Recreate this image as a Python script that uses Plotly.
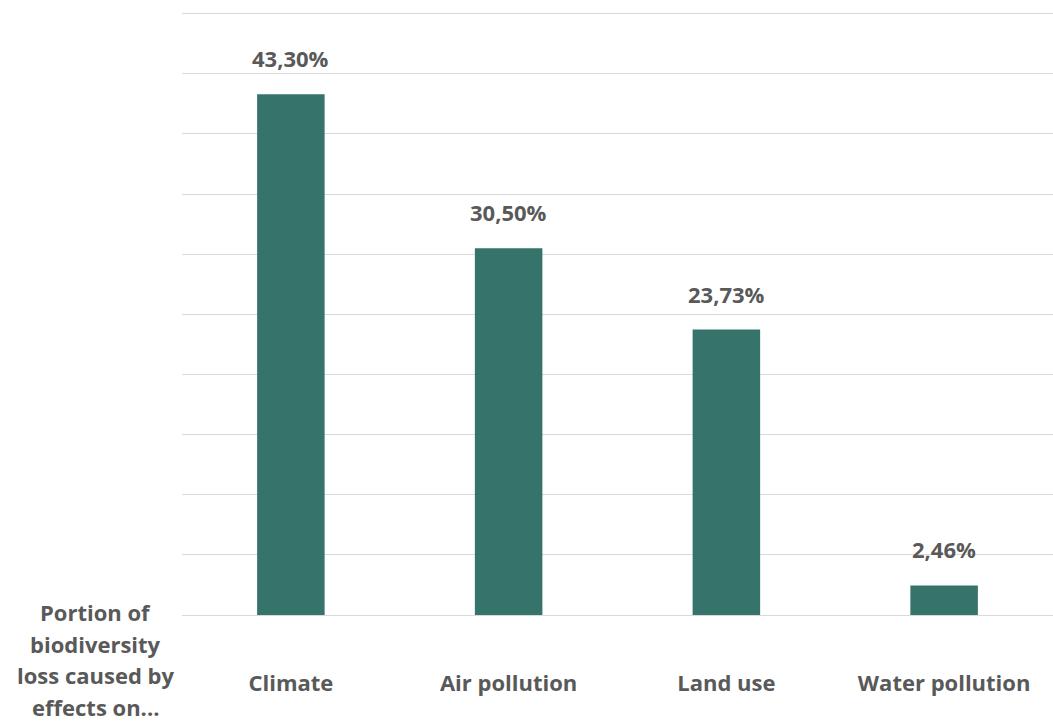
import plotly.graph_objects as go

categories = ["Climate", "Air pollution", "Land use", "Water pollution"]
values = [43.30, 30.50, 23.73, 2.46]
value_labels = ["43,30%", "30,50%", "23,73%", "2,46%"]
axis_title_lines = ["Portion of", "biodiversity", "loss caused by", "effects on..."]

BAR = "#36736b"
TXT = "#595959"
FONT = "Open Sans"

fig = go.Figure(go.Bar(x=categories, y=values, marker=dict(color=BAR, line=dict(width=0)),
                       width=0.31, hoverinfo="skip"))

for c, v, lab in zip(categories, values, value_labels):
    fig.add_annotation(x=c, y=v, text=f"<b>{lab}</b>", showarrow=False, yshift=36,
                       yanchor="middle", font=dict(family=FONT, size=22, color=TXT))

for i, t in enumerate(axis_title_lines):
    fig.add_annotation(xref="paper", yref="paper", x=-0.0994, y=0, xanchor="center",
                       yanchor="middle", yshift=3 - 31.6 * i,
                       text=f"<b>{t}</b>", showarrow=False,
                       font=dict(family=FONT, size=22, color=TXT))

fig.update_layout(
    width=1053, height=721,
    margin=dict(l=182, r=0, t=10, b=106),
    paper_bgcolor="white", plot_bgcolor="white",
    showlegend=False,
    xaxis=dict(showgrid=False, showline=False, ticks="", ticklabelstandoff=53,
               tickfont=dict(family=FONT, size=22, color=TXT),
               tickprefix="<b>", ticksuffix="</b>"),
    yaxis=dict(range=[0, 50.3], dtick=5, showgrid=True, gridcolor="#d9d9d9", gridwidth=1,
               zeroline=True, zerolinecolor="#d9d9d9", zerolinewidth=1,
               showticklabels=False, ticks=""),
)
fig.write_html("out.html")
